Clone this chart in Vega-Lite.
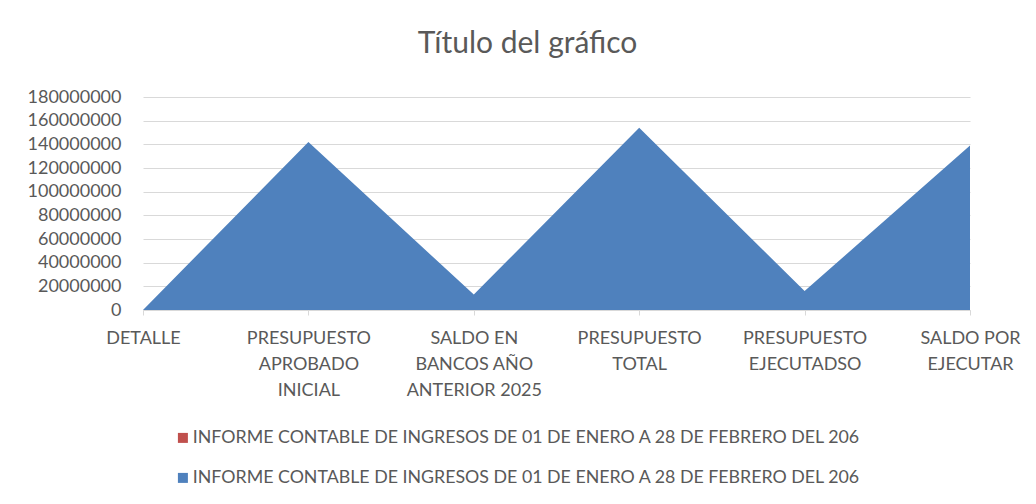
{
  "$schema": "https://vega.github.io/schema/vega-lite/v6.json",
  "autosize": {"type": "none"},
  "width": 827,
  "height": 213,
  "padding": {"left": 143, "top": 97, "right": 66, "bottom": 194},
  "background": "#ffffff",
  "title": {
    "text": "Título del gráfico",
    "font": "Lato",
    "fontSize": 30,
    "fontWeight": "normal",
    "color": "#595959",
    "anchor": "middle",
    "baseline": "alphabetic",
    "offset": 5,
    "dx": -29
  },
  "data": {
    "values": [
      {"categoria": "DETALLE", "serie": "B", "valor": 0},
      {"categoria": "PRESUPUESTO APROBADO INICIAL", "serie": "B", "valor": 142000000},
      {"categoria": "SALDO EN BANCOS AÑO ANTERIOR 2025", "serie": "B", "valor": 13000000},
      {"categoria": "PRESUPUESTO TOTAL", "serie": "B", "valor": 154000000},
      {"categoria": "PRESUPUESTO EJECUTADSO", "serie": "B", "valor": 16000000},
      {"categoria": "SALDO POR EJECUTAR", "serie": "B", "valor": 139000000}
    ]
  },
  "mark": {"type": "area", "opacity": 1},
  "encoding": {
    "x": {
      "field": "categoria",
      "type": "nominal",
      "sort": null,
      "scale": {"type": "point", "padding": 0},
      "axis": {
        "title": null,
        "labelAngle": 0,
        "labelFont": "Lato",
        "labelFontSize": 18,
        "labelColor": "#595959",
        "labelLineHeight": 26,
        "labelPadding": 14,
        "labelBaseline": "top",
        "labelLimit": 300,
        "domainColor": "#d9d9d9",
        "tickColor": "#d9d9d9",
        "tickSize": 5,
        "grid": false,
        "labelExpr": "datum.value == 'PRESUPUESTO APROBADO INICIAL' ? ['PRESUPUESTO', 'APROBADO', 'INICIAL'] : datum.value == 'SALDO EN BANCOS AÑO ANTERIOR 2025' ? ['SALDO EN', 'BANCOS AÑO', 'ANTERIOR 2025'] : datum.value == 'PRESUPUESTO TOTAL' ? ['PRESUPUESTO', 'TOTAL'] : datum.value == 'PRESUPUESTO EJECUTADSO' ? ['PRESUPUESTO', 'EJECUTADSO'] : datum.value == 'SALDO POR EJECUTAR' ? ['SALDO POR', 'EJECUTAR'] : datum.value"
      }
    },
    "y": {
      "field": "valor",
      "type": "quantitative",
      "scale": {"domain": [0, 180000000], "nice": false},
      "axis": {
        "title": null,
        "values": [0, 20000000, 40000000, 60000000, 80000000, 100000000, 120000000, 140000000, 160000000, 180000000],
        "format": "d",
        "labelFont": "Lato",
        "labelFontSize": 18,
        "labelColor": "#595959",
        "labelPadding": 22,
        "ticks": false,
        "domain": false,
        "gridColor": "#d9d9d9",
        "gridWidth": 1.2
      }
    },
    "color": {
      "field": "serie",
      "type": "nominal",
      "scale": {"domain": ["A", "B"], "range": ["#C0504D", "#4F81BD"]},
      "legend": {
        "title": null,
        "orient": "none",
        "legendX": 31,
        "legendY": 332,
        "direction": "vertical",
        "symbolType": "square",
        "symbolSize": 100,
        "symbolStrokeWidth": 0,
        "symbolOpacity": 1,
        "labelFont": "Lato",
        "labelFontSize": 17.8,
        "labelColor": "#595959",
        "labelLimit": 1000,
        "labelOffset": 1,
        "rowPadding": 21,
        "labelExpr": "'INFORME CONTABLE DE INGRESOS DE 01 DE ENERO A 28 DE FEBRERO DEL 206'"
      }
    }
  },
  "config": {"view": {"stroke": null}}
}
